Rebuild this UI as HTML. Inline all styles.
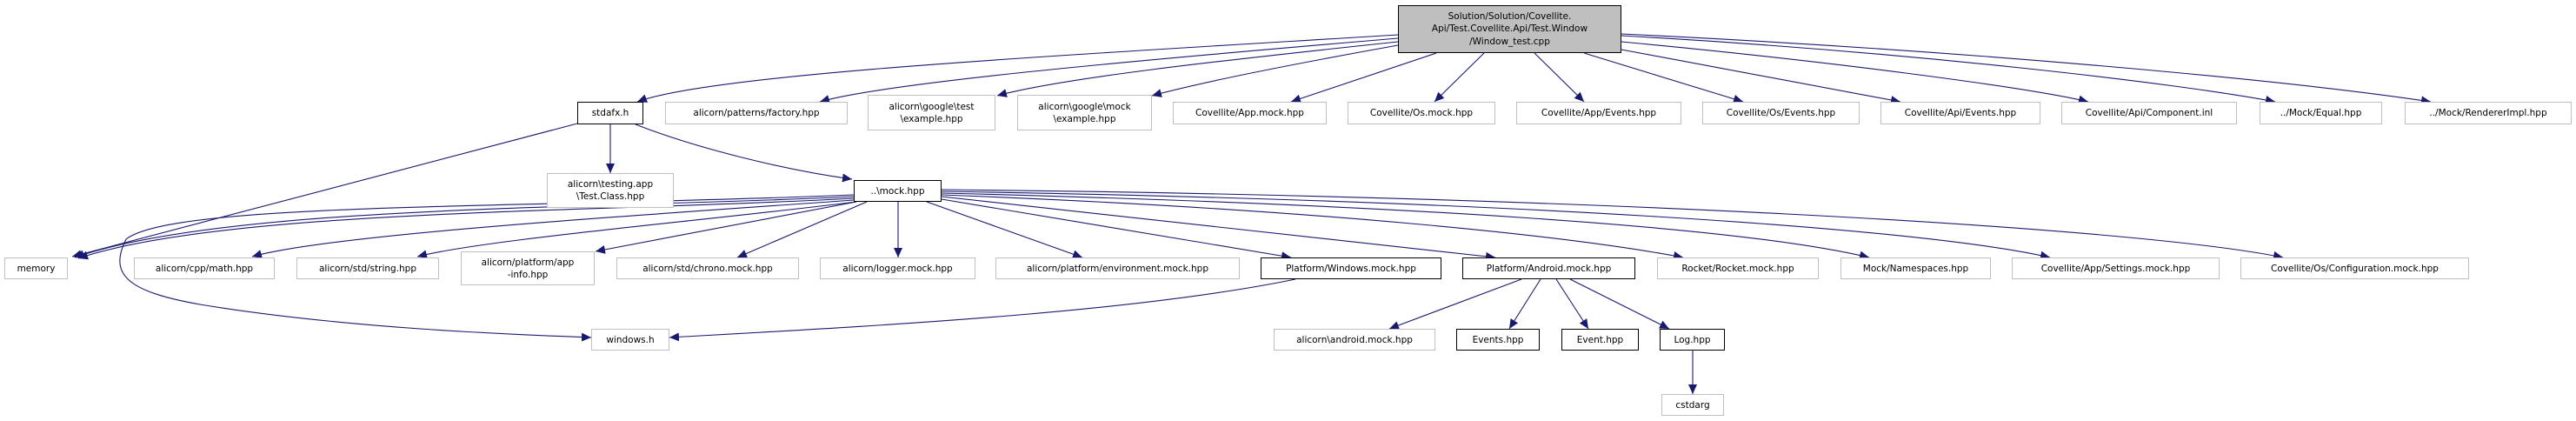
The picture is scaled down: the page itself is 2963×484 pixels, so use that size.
<!DOCTYPE html>
<html><head><meta charset="utf-8"><style>
html,body{margin:0;padding:0;background:#fff;}
#c{position:relative;width:2963px;height:484px;overflow:hidden;font-family:"DejaVu Sans","Liberation Sans",sans-serif;font-size:10.5px;color:#000;}
.b{position:absolute;box-sizing:border-box;border:1px solid #bfbfbf;background:#fff;display:flex;align-items:center;justify-content:center;text-align:center;line-height:14px;white-space:nowrap;}
.k{border-color:#000;}
svg{position:absolute;left:0;top:0;}
</style></head><body><div id="c">
<svg width="2963" height="484" viewBox="0 0 2963 484">
<defs><marker id="a" markerUnits="userSpaceOnUse" markerWidth="12" markerHeight="10" refX="11" refY="5" orient="auto"><path d="M0,0 L11,5 L0,10 z" fill="#191970"/></marker></defs>
<g fill="none" stroke="#191970" stroke-width="1.1" marker-end="url(#a)">
<path d="M1608,40 C1200,65 820,85 733,117"/>
<path d="M1608,44 C1300,70 1020,95 943,117"/>
<path d="M1608,48 C1400,70 1220,90 1147,110"/>
<path d="M1608,52 C1480,75 1380,95 1325,110"/>
<path d="M1652,61 L1485,117"/>
<path d="M1707,61 L1650,117"/>
<path d="M1765,61 L1822,117"/>
<path d="M1822,61 L2005,117"/>
<path d="M1865,57 L2186,117"/>
<path d="M1865,48 C2100,70 2330,100 2402,117"/>
<path d="M1865,41 C2200,60 2500,95 2617,117"/>
<path d="M1865,39 C2300,60 2650,95 2796,117"/>
<path d="M664,142 L83,295"/>
<path d="M702,143 L702,199"/>
<path d="M731,143 C800,170 900,195 980,206"/>
<path d="M982,226 C700,240 260,235 86,296"/>
<path d="M982,228 C700,244 260,240 90,297"/>
<path d="M982,224 C600,240 200,232 145,275 C125,315 145,335 230,350 C400,378 600,385 680,388"/>
<path d="M982,230 C700,250 380,270 290,295"/>
<path d="M985,232 C800,255 560,275 480,295"/>
<path d="M985,232 L685,289"/>
<path d="M997,232 L848,296"/>
<path d="M1033,232 L1033,296"/>
<path d="M1066,232 L1245,296"/>
<path d="M1083,229 L1485,296"/>
<path d="M1083,226 L1720,296"/>
<path d="M1083,224 C1500,240 1800,270 1936,296"/>
<path d="M1083,222 C1600,235 2000,260 2150,296"/>
<path d="M1083,220 C1700,230 2200,260 2358,296"/>
<path d="M1083,218 C1800,225 2450,260 2626,296"/>
<path d="M1750,321 L1598,378"/>
<path d="M1772,321 L1736,378"/>
<path d="M1790,321 L1827,378"/>
<path d="M1806,321 L1920,378"/>
<path d="M1947,403 L1947,453"/>
<path d="M1490,321 C1300,360 1000,375 770,388"/>
</g></svg>
<div class="b k" style="left:1608px;top:6px;width:257px;height:55px;background:#bfbfbf;line-height:14.5px">Solution/Solution/Covellite.<br>Api/Test.Covellite.Api/Test.Window<br>/Window_test.cpp</div>
<div class="b k" style="left:664px;top:117px;width:76px;height:26px">stdafx.h</div>
<div class="b" style="left:765px;top:117px;width:210px;height:26px">alicorn/patterns/factory.hpp</div>
<div class="b" style="left:998px;top:109px;width:147px;height:41px">alicorn\google\test<br>\example.hpp</div>
<div class="b" style="left:1170px;top:109px;width:155px;height:41px">alicorn\google\mock<br>\example.hpp</div>
<div class="b" style="left:1349px;top:117px;width:177px;height:26px">Covellite/App.mock.hpp</div>
<div class="b" style="left:1550px;top:117px;width:170px;height:26px">Covellite/Os.mock.hpp</div>
<div class="b" style="left:1744px;top:117px;width:190px;height:26px">Covellite/App/Events.hpp</div>
<div class="b" style="left:1958px;top:117px;width:181px;height:26px">Covellite/Os/Events.hpp</div>
<div class="b" style="left:2163px;top:117px;width:184px;height:26px">Covellite/Api/Events.hpp</div>
<div class="b" style="left:2371px;top:117px;width:202px;height:26px">Covellite/Api/Component.inl</div>
<div class="b" style="left:2599px;top:117px;width:141px;height:26px">../Mock/Equal.hpp</div>
<div class="b" style="left:2766px;top:117px;width:192px;height:26px">../Mock/RendererImpl.hpp</div>
<div class="b" style="left:629px;top:199px;width:146px;height:40px">alicorn\testing.app<br>\Test.Class.hpp</div>
<div class="b k" style="left:982px;top:207px;width:101px;height:25px">..\mock.hpp</div>
<div class="b" style="left:5px;top:296px;width:73px;height:25px">memory</div>
<div class="b" style="left:154px;top:296px;width:162px;height:25px">alicorn/cpp/math.hpp</div>
<div class="b" style="left:341px;top:296px;width:164px;height:25px">alicorn/std/string.hpp</div>
<div class="b" style="left:530px;top:289px;width:154px;height:39px">alicorn/platform/app<br>-info.hpp</div>
<div class="b" style="left:709px;top:296px;width:210px;height:25px">alicorn/std/chrono.mock.hpp</div>
<div class="b" style="left:943px;top:296px;width:179px;height:25px">alicorn/logger.mock.hpp</div>
<div class="b" style="left:1145px;top:296px;width:281px;height:25px">alicorn/platform/environment.mock.hpp</div>
<div class="b k" style="left:1450px;top:296px;width:208px;height:25px">Platform/Windows.mock.hpp</div>
<div class="b k" style="left:1682px;top:296px;width:199px;height:25px">Platform/Android.mock.hpp</div>
<div class="b" style="left:1906px;top:296px;width:186px;height:25px">Rocket/Rocket.mock.hpp</div>
<div class="b" style="left:2117px;top:296px;width:173px;height:25px">Mock/Namespaces.hpp</div>
<div class="b" style="left:2314px;top:296px;width:239px;height:25px">Covellite/App/Settings.mock.hpp</div>
<div class="b" style="left:2577px;top:296px;width:263px;height:25px">Covellite/Os/Configuration.mock.hpp</div>
<div class="b" style="left:680px;top:378px;width:90px;height:25px">windows.h</div>
<div class="b" style="left:1465px;top:378px;width:186px;height:25px">alicorn\android.mock.hpp</div>
<div class="b k" style="left:1675px;top:378px;width:96px;height:25px">Events.hpp</div>
<div class="b k" style="left:1796px;top:378px;width:89px;height:25px">Event.hpp</div>
<div class="b k" style="left:1909px;top:378px;width:75px;height:25px">Log.hpp</div>
<div class="b" style="left:1911px;top:453px;width:72px;height:25px">cstdarg</div>
</div></body></html>
